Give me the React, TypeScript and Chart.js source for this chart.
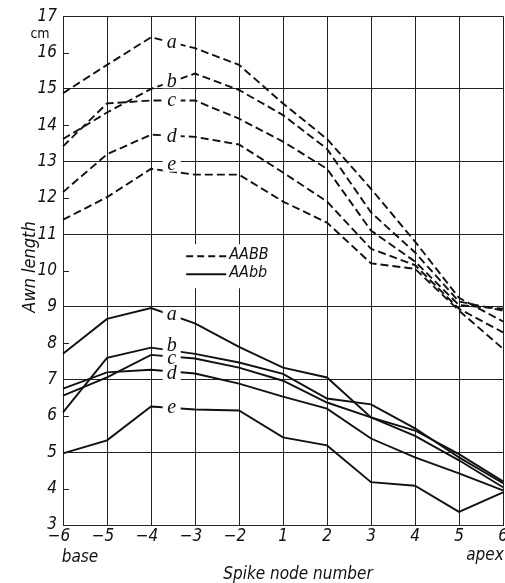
import React, { useEffect, useRef } from "react";
import { Chart, registerables } from "chart.js";

Chart.register(...registerables);

// ---- data ----
const nodeLabels = ["\u22126", "\u22125", "\u22124", "\u22123", "\u22122", "1", "2", "3", "4", "5", "6"];
const yTicks = [3, 17];

const aabbA = [14.88, 15.66, 16.42, 16.12, 15.66, 14.6, 13.62, 12.25, 10.8, 9.25, 8.6];
const aabbB = [13.62, 14.35, 15.0, 15.42, 14.97, 14.28, 13.35, 11.6, 10.5, 9.15, 8.9];
const aabbC = [13.42, 14.6, 14.68, 14.68, 14.18, 13.55, 12.8, 11.1, 10.25, 9.05, 8.95];
const aabbD = [12.16, 13.2, 13.74, 13.68, 13.47, 12.7, 11.9, 10.6, 10.15, 8.95, 8.3];
const aabbE = [11.4, 12.02, 12.8, 12.64, 12.64, 11.9, 11.32, 10.2, 10.05, 8.9, 7.85];

const aabbLowA = [7.71, 8.67, 8.97, 8.55, 7.9, 7.33, 7.06, 5.96, 5.6, 4.95, 4.2];
const aabbLowB = [6.1, 7.6, 7.88, 7.71, 7.47, 7.16, 6.48, 6.32, 5.66, 4.86, 4.15];
const aabbLowC = [6.56, 7.06, 7.68, 7.58, 7.33, 6.97, 6.37, 5.96, 5.45, 4.78, 4.04];
const aabbLowD = [6.75, 7.2, 7.27, 7.17, 6.89, 6.53, 6.2, 5.38, 4.86, 4.42, 3.95];
const aabbLowE = [4.97, 5.33, 6.26, 6.18, 6.15, 5.41, 5.19, 4.18, 4.08, 3.36, 3.9];

const curveLetters = ["a", "b", "c", "d", "e"];
const legendNames = ["AABB", "AAbb"];
const axisTitle = "Awn length";
const xTitle = "Spike node number";
const unitLabel = "cm";
const baseLabel = "base";
const apexLabel = "apex";

// ---- style ----
const SANS = "'Liberation Sans Narrow', 'DejaVu Sans Condensed', 'Roboto Condensed', Roboto, sans-serif";
const SERIF = "'Liberation Serif', 'DejaVu Serif', serif";
const INK = "#111";
const dashedSeries = [aabbA, aabbB, aabbC, aabbD, aabbE];
const solidSeries = [aabbLowA, aabbLowB, aabbLowC, aabbLowD, aabbLowE];
const dashedNudge = [0, 0, 0, 1, -7];
const solidNudge = [-1, -5, 2, 2, 0];

const overlay = {
  id: "overlay",
  afterDatasetsDraw(chart: any) {
    const { ctx, chartArea, scales } = chart;
    const x = scales.x;
    const y = scales.y;
    ctx.save();
    // minor ticks at even values
    ctx.strokeStyle = "#222";
    ctx.lineWidth = 1;
    for (let v = yTicks[0] + 1; v < yTicks[1]; v += 2) {
      const py = Math.round(y.getPixelForValue(v)) + 0.5;
      ctx.beginPath();
      ctx.moveTo(chartArea.left, py);
      ctx.lineTo(chartArea.left + 6, py);
      ctx.stroke();
    }
    // curve letters with gaps
    const drawLetters = (series: number[][], nudges: number[]) => {
      series.forEach((d, i) => {
        const px = x.getPixelForValue(2.47);
        const py = y.getPixelForValue((d[2] + d[3]) / 2) + nudges[i];
        ctx.fillStyle = "#fff";
        ctx.fillRect(px - 9, py - 7, 18, 14);
        ctx.fillStyle = INK;
        ctx.font = "italic 20px " + SERIF;
        ctx.textAlign = "center";
        ctx.textBaseline = "middle";
        ctx.fillText(curveLetters[i], px, py);
      });
    };
    drawLetters(dashedSeries, dashedNudge);
    drawLetters(solidSeries, solidNudge);

    // legend
    const lx = x.getPixelForValue(2.8);
    const ly = y.getPixelForValue(10.45);
    ctx.fillStyle = "#fff";
    ctx.fillRect(lx - 6, ly - 10, 90, 44);
    ctx.strokeStyle = INK;
    ctx.lineWidth = 1.8;
    ctx.setLineDash([7, 4]);
    ctx.beginPath();
    ctx.moveTo(lx, ly + 2);
    ctx.lineTo(lx + 40, ly + 2);
    ctx.stroke();
    ctx.setLineDash([]);
    ctx.beginPath();
    ctx.moveTo(lx, ly + 20);
    ctx.lineTo(lx + 40, ly + 20);
    ctx.stroke();
    ctx.fillStyle = INK;
    ctx.font = "italic 16px " + SANS;
    ctx.textAlign = "left";
    ctx.textBaseline = "middle";
    ctx.fillText(legendNames[0], lx + 43, ly + 1);
    ctx.fillText(legendNames[1], lx + 43, ly + 19);

    // x tick labels
    ctx.font = "italic 17px " + SANS;
    ctx.textAlign = "center";
    ctx.textBaseline = "middle";
    nodeLabels.forEach((lab, i) => {
      const px = x.getPixelForTick(i);
      const shift = lab.startsWith("\u2212") ? -4 : 0;
      ctx.fillText(lab, px + shift, chartArea.bottom + 12);
    });
    // base / apex
    ctx.fillText(baseLabel, x.getPixelForTick(0) + 17, chartArea.bottom + 33);
    ctx.fillText(apexLabel, x.getPixelForTick(nodeLabels.length - 1) - 18, chartArea.bottom + 31);
    ctx.fillText(xTitle, (chartArea.left + chartArea.right) / 2 + 15, chartArea.bottom + 50);
    // unit
    ctx.font = "14px " + SANS;
    ctx.fillText(unitLabel, 40, chartArea.top + 18);
    // y title
    ctx.font = "italic 18px " + SANS;
    ctx.translate(30, y.getPixelForValue(10.1));
    ctx.rotate(-Math.PI / 2);
    ctx.fillText(axisTitle, 0, 0);
    ctx.restore();
  },
};

export default function App() {
  const ref = useRef<HTMLCanvasElement | null>(null);
  useEffect(() => {
    if (!ref.current) return;
    const mk = (d: number[], dashed: boolean) => ({
      data: d,
      borderColor: INK,
      borderWidth: 1.9,
      borderDash: dashed ? [8, 4] : [],
      pointRadius: 0,
      tension: 0,
      fill: false,
    });
    const chart = new Chart(ref.current, {
      type: "line",
      data: {
        labels: nodeLabels,
        datasets: [
          ...dashedSeries.map((d) => mk(d, true)),
          ...solidSeries.map((d) => mk(d, false)),
        ],
      },
      options: {
        responsive: false,
        animation: false,
        devicePixelRatio: 1,
        layout: { padding: { top: 14, right: 2, left: 0, bottom: 0 } },
        plugins: { legend: { display: false }, tooltip: { enabled: false }, title: { display: false } },
        scales: {
          x: {
            type: "category",
            offset: false,
            grid: { color: "#222", lineWidth: 1, drawTicks: false, offset: false },
            border: { display: true, color: "#222" },
            ticks: { display: false, autoSkip: false },
            afterFit: (s: any) => {
              s.height = 58;
            },
          },
          y: {
            type: "linear",
            min: yTicks[0],
            max: yTicks[1],
            ticks: {
              stepSize: 1,
              padding: 6,
              color: INK,
              font: { family: SANS, size: 17, style: "italic" },
            },
            grid: {
              drawTicks: false,
              lineWidth: 1,
              color: (c: any) => (c.tick && Math.round(c.tick.value) % 2 === 1 ? "#222" : "rgba(0,0,0,0)"),
            },
            border: { display: true, color: "#222" },
            afterFit: (s: any) => {
              s.width = 63;
            },
          },
        },
      },
      plugins: [overlay],
    });
    return () => chart.destroy();
  }, []);
  return (
    <div style={{ position: "absolute", left: 0, top: 0, width: 505, height: 583, background: "#fff" }}>
      <canvas ref={ref} width={505} height={583} />
    </div>
  );
}
